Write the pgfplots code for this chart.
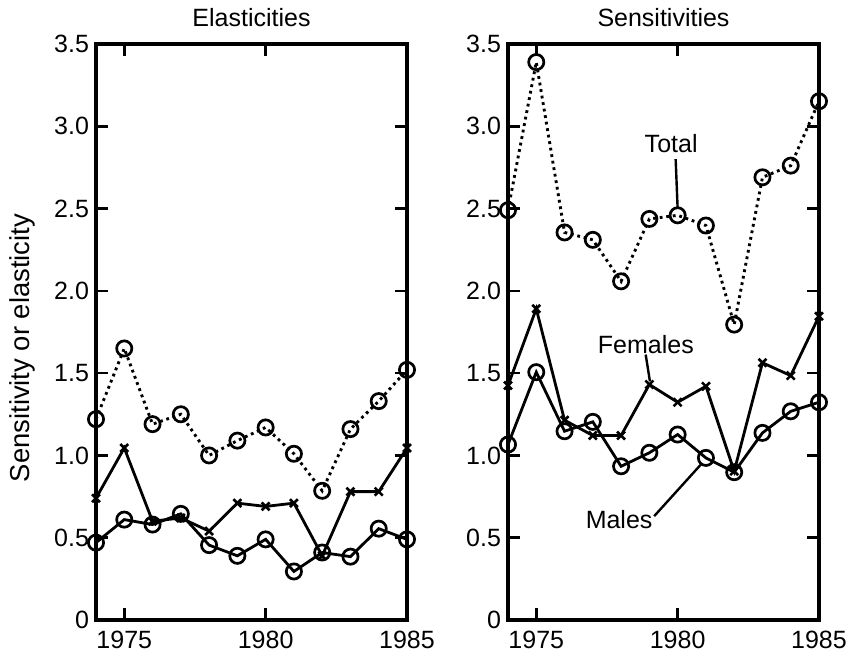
\documentclass[border=0pt]{standalone}
\usepackage{fontspec}
\setmainfont{Liberation Sans}
\usepackage{pgfplots}
\pgfplotsset{compat=1.18}

\pgfplotsset{
  panel/.style={
    scale only axis, width=155.5pt, height=288pt,
    xmin=1974, xmax=1985, ymin=0, ymax=3.5,
    xtick={1975,1980,1985}, xticklabels={1975,1980,1985},
    ytick={0,0.5,1,1.5,2,2.5,3,3.5}, yticklabels={0,0.5,1.0,1.5,2.0,2.5,3.0,3.5},
    tick align=inside, major tick length=6pt,
    every tick/.style={line width=1.3pt, black},
    axis line style={line width=1.6pt},
    font=\fontsize{12.5}{14}\selectfont,
    tick label style={font=\fontsize{12.5}{14}\selectfont},
    every axis title shift=0pt,
    title style={at={(0.5,1)}, anchor=base, yshift=8.5pt},
    xticklabel style={yshift=-2pt},
    clip=false,
    /pgf/number format/assume math mode=true,
  },
  tot/.style={black, line width=1.45pt, dash pattern=on 1.4pt off 1.9pt, mark=o, mark size=3.8pt, mark options={solid, line width=1.35pt}},
  fem/.style={black, line width=1.4pt, mark=x, mark size=2.8pt, mark options={solid, line width=1.3pt}},
  mal/.style={black, line width=1.4pt, mark=o, mark size=3.8pt, mark options={solid, line width=1.35pt}},
}

\begin{document}
\begin{tikzpicture}
\useasboundingbox (0,0) rectangle (423.5pt,326.5pt);

\begin{axis}[panel, at={(48pt,16.5pt)}, anchor=south west,
  title={Elasticities},
  ylabel={Sensitivity or elasticity},
  ylabel style={at={(axis description cs:-0.235,0.472)}, anchor=center, font=\fontsize{13.7}{15}\selectfont}]
\addplot[tot] coordinates {
 (1974,1.22) (1975,1.65) (1976,1.19) (1977,1.25) (1978,1.00) (1979,1.09)
 (1980,1.17) (1981,1.01) (1982,0.785) (1983,1.16) (1984,1.33) (1985,1.52)};
\addplot[fem] coordinates {
 (1974,0.74) (1975,1.045) (1976,0.60) (1977,0.62) (1978,0.54) (1979,0.71)
 (1980,0.69) (1981,0.71) (1982,0.39) (1983,0.78) (1984,0.78) (1985,1.045)};
\addplot[mal] coordinates {
 (1974,0.47) (1975,0.61) (1976,0.58) (1977,0.645) (1978,0.455) (1979,0.39)
 (1980,0.49) (1981,0.295) (1982,0.41) (1983,0.385) (1984,0.555) (1985,0.49)};
\end{axis}

\begin{axis}[panel, at={(254pt,16.5pt)}, anchor=south west,
  title={Sensitivities}]
\addplot[tot] coordinates {
 (1974,2.49) (1975,3.39) (1976,2.355) (1977,2.31) (1978,2.058) (1979,2.437)
 (1980,2.459) (1981,2.397) (1982,1.795) (1983,2.69) (1984,2.761) (1985,3.152)};
\addplot[fem] coordinates {
 (1974,1.425) (1975,1.891) (1976,1.214) (1977,1.121) (1978,1.121) (1979,1.431)
 (1980,1.323) (1981,1.42) (1982,0.904) (1983,1.563) (1984,1.485) (1985,1.846)};
\addplot[mal] coordinates {
 (1974,1.066) (1975,1.506) (1976,1.147) (1977,1.204) (1978,0.934) (1979,1.016)
 (1980,1.127) (1981,0.985) (1982,0.898) (1983,1.137) (1984,1.268) (1985,1.323)};
\node at (axis cs:1979.77,2.898) {Total};
\draw[line width=1.2pt] (axis cs:1979.93,2.80) -- (axis cs:1980.0,2.50);
\node at (axis cs:1978.875,1.674) {Females};
\draw[line width=1.2pt] (axis cs:1978.87,1.613) -- (axis cs:1979.02,1.45);
\node at (axis cs:1977.93,0.61) {Males};
\draw[line width=1.2pt] (axis cs:1979.17,0.631) -- (axis cs:1980.85,0.95);
\end{axis}
\end{tikzpicture}
\end{document}
